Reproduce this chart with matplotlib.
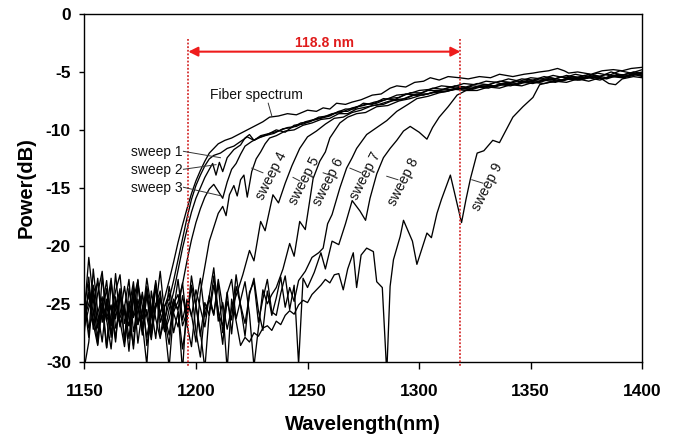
import matplotlib
matplotlib.use("Agg")
import matplotlib.pyplot as plt

plt.rcParams["font.family"] = ["Liberation Sans", "DejaVu Sans"]
plt.rcParams["axes.unicode_minus"] = False

# wavelength grid (nm) of the noise floor part of every trace
NOISE_WL = [1150, 1152, 1154, 1156, 1158, 1160, 1162, 1164, 1166, 1168,
            1170, 1172, 1174, 1176, 1178, 1180, 1182, 1184, 1186, 1188,
            1190, 1192, 1194, 1196, 1198, 1200, 1202, 1204, 1206, 1208,
            1210, 1212, 1214, 1216, 1218, 1220, 1222, 1224, 1226, 1228,
            1230, 1232, 1234, 1236, 1238, 1240, 1242, 1244, 1246, 1248,
            1250, 1252, 1254, 1256, 1258, 1260, 1262, 1264]

# ---- fiber spectrum ----
FIBER_FLOOR = [-25.8, -21.0, -24.6, -27.9, -25.2, -28.8, -23.1, -26.3, -24.0, -28.2,
               -23.7, -26.1, -22.9, -27.3, -25.5, -27.8, -23.2, -25.9, -24.5]
FIBER_TAIL = [(1188, -23.0), (1190, -21.4), (1192, -19.7), (1194, -18.2), (1196, -16.8),
              (1198, -15.5), (1200, -14.4), (1202, -13.5), (1204, -12.7), (1206, -12.0),
              (1208, -11.6), (1210, -11.2), (1213, -10.9), (1216, -10.7), (1219, -10.4),
              (1222, -10.1), (1226, -9.7), (1230, -9.3), (1233, -8.9), (1237, -8.8),
              (1241, -8.6), (1245, -8.7), (1250, -8.3), (1254, -8.4), (1257, -8.1),
              (1260, -8.2), (1263, -7.7), (1267, -7.8), (1270, -7.6), (1274, -7.4),
              (1279, -7.0), (1283, -6.9), (1287, -6.4), (1290, -6.2), (1294, -6.3),
              (1298, -5.9), (1302, -5.8), (1305, -5.5), (1309, -5.7), (1313, -5.4),
              (1318, -5.5), (1322, -5.6), (1327, -5.4), (1332, -5.5), (1336, -5.2),
              (1342, -5.4), (1347, -5.2), (1351, -5.1), (1354, -5.0), (1358, -4.9),
              (1362, -4.7), (1365, -4.9), (1367, -5.1), (1371, -5.0), (1377, -5.2),
              (1382, -4.9), (1387, -4.8), (1391, -4.9), (1395, -4.7), (1400, -4.6)]

# ---- sweeps ----
SWEEP1_FLOOR = [-27.5, -23.3, -26.8, -24.1, -22.2, -26.4, -28.9, -24.8, -27.0, -25.3,
                -29.1, -24.6, -23.0, -26.7, -30.3, -23.9, -26.3, -28.0, -25.2]
SWEEP1_TAIL = [(1188, -24.6), (1190, -23.0), (1192, -21.2), (1194, -19.4), (1196, -17.6),
               (1198, -16.0), (1200, -14.8), (1202, -13.9), (1204, -13.1), (1206, -12.5),
               (1208, -12.2), (1211, -12.0), (1214, -11.6), (1217, -11.4), (1220, -11.0),
               (1223, -10.6), (1226, -10.9), (1229, -10.5), (1233, -10.3), (1237, -10.1),
               (1241, -9.8), (1245, -9.7), (1249, -9.3), (1253, -9.1), (1257, -8.9),
               (1261, -8.6), (1265, -8.5), (1270, -8.1), (1275, -7.9), (1280, -7.6),
               (1285, -7.4), (1290, -7.0), (1295, -6.9), (1300, -6.6), (1305, -6.5),
               (1310, -6.2), (1315, -6.3), (1320, -6.0), (1325, -6.1), (1330, -5.8),
               (1335, -5.9), (1340, -5.6), (1345, -5.8), (1350, -5.5), (1355, -5.6),
               (1360, -5.3), (1365, -5.5), (1370, -5.2), (1375, -5.4), (1380, -5.1),
               (1385, -5.3), (1390, -4.9), (1395, -5.1), (1400, -4.8)]

SWEEP2_FLOOR = [-24.8, -27.9, -22.0, -25.7, -28.3, -24.6, -26.9, -22.4, -26.5, -28.7,
                -25.4, -23.1, -26.8, -24.0, -28.6, -26.2, -23.7, -25.8, -27.4, -25.5]
SWEEP2_TAIL = [(1190, -24.0), (1192, -22.1), (1194, -20.2), (1196, -18.6), (1198, -17.1),
               (1200, -15.9), (1202, -15.0), (1204, -14.1), (1206, -13.4), (1207.5, -12.9),
               (1209, -13.9), (1210.5, -12.8), (1212, -13.6), (1214, -12.4), (1217, -11.7),
               (1220, -11.3), (1222, -10.7), (1224, -10.4), (1226, -10.9), (1229, -10.6),
               (1232, -10.4), (1236, -10.0), (1240, -10.2), (1244, -9.6), (1248, -9.5),
               (1252, -9.2), (1256, -9.0), (1260, -8.8), (1264, -8.4), (1268, -8.4),
               (1272, -8.0), (1276, -7.8), (1281, -7.7), (1286, -7.3), (1291, -7.2),
               (1296, -6.8), (1301, -6.8), (1306, -6.4), (1311, -6.5), (1316, -6.2),
               (1321, -6.3), (1326, -6.0), (1331, -6.1), (1336, -5.8), (1341, -5.9),
               (1346, -5.6), (1351, -5.7), (1356, -5.4), (1361, -5.6), (1366, -5.3),
               (1371, -5.5), (1376, -5.2), (1381, -5.4), (1386, -5.0), (1391, -5.3),
               (1396, -5.0), (1400, -5.1)]

SWEEP3_FLOOR = [-30.5, -28.3, -24.0, -23.2, -26.6, -25.4, -22.8, -27.1, -25.9, -23.5,
                -26.3, -28.6, -23.4, -25.2, -27.9, -25.6, -23.0, -27.8, -26.4, -24.9,
                -25.7, -24.8]
SWEEP3_TAIL = [(1194, -23.3), (1196, -21.3), (1198, -19.5), (1200, -18.0), (1202, -16.8),
               (1204, -15.8), (1206, -15.1), (1208, -14.7), (1210, -15.3), (1212, -15.9),
               (1214, -14.5), (1216, -13.4), (1218, -12.9), (1220, -12.1), (1222, -11.4),
               (1225, -11.0), (1228, -10.7), (1231, -10.5), (1235, -10.3), (1239, -9.9),
               (1243, -9.8), (1247, -9.4), (1251, -9.3), (1255, -8.9), (1259, -8.8),
               (1263, -8.5), (1267, -8.2), (1271, -8.2), (1275, -7.7), (1279, -7.8),
               (1284, -7.3), (1289, -7.4), (1294, -6.9), (1299, -7.0), (1304, -6.6),
               (1309, -6.6), (1314, -6.3), (1319, -6.5), (1324, -6.2), (1329, -6.3),
               (1334, -5.9), (1339, -6.1), (1344, -5.8), (1349, -5.9), (1354, -5.6),
               (1359, -5.7), (1364, -5.4), (1369, -5.6), (1374, -5.3), (1379, -5.5),
               (1384, -5.2), (1389, -5.4), (1394, -5.1), (1400, -5.2)]

SWEEP4_FLOOR = [-25.3, -22.7, -27.2, -25.8, -24.4, -28.8, -26.0, -23.9, -22.5, -26.7,
                -25.1, -28.9, -24.6, -26.3, -22.8, -25.4, -28.0, -24.2, -26.8, -30.5,
                -25.6, -22.9, -26.4, -24.7, -25.9, -28.3]
SWEEP4_TAIL = [(1202, -24.0), (1204, -21.8), (1206, -19.6), (1208, -18.4), (1210, -17.2),
               (1212, -16.6), (1213.5, -17.4), (1215, -15.6), (1217, -14.8), (1218.5, -15.7),
               (1220, -14.3), (1221.5, -13.9), (1223, -15.8), (1225, -13.6), (1227, -12.5),
               (1229, -11.9), (1231, -11.2), (1233, -10.7), (1236, -10.5), (1240, -10.1),
               (1244, -10.0), (1248, -9.6), (1252, -9.4), (1256, -9.1), (1260, -9.0),
               (1264, -8.6), (1268, -8.6), (1272, -8.2), (1277, -8.0), (1282, -7.8),
               (1287, -7.5), (1292, -7.4), (1297, -7.0), (1302, -7.0), (1307, -6.7),
               (1312, -6.7), (1317, -6.4), (1322, -6.5), (1327, -6.2), (1332, -6.3),
               (1337, -6.0), (1342, -6.1), (1347, -5.8), (1352, -5.9), (1357, -5.6),
               (1362, -5.8), (1367, -5.5), (1372, -5.6), (1377, -5.4), (1382, -5.6),
               (1387, -5.3), (1392, -5.4), (1396, -5.1), (1400, -5.3)]

SWEEP5_FLOOR = [-26.4, -24.0, -25.7, -28.5, -22.6, -26.2, -25.1, -28.0, -24.3, -25.8,
                -26.9, -23.7, -28.4, -25.5, -24.1, -27.6, -25.3, -22.2, -26.0, -27.7,
                -24.8, -25.6, -28.9, -26.2, -23.4, -25.1, -27.4, -30.6, -25.7, -22.6,
                -26.5, -24.9, -27.2, -25.4]
SWEEP5_TAIL = [(1218, -24.3), (1221, -22.5), (1224, -20.4), (1226, -21.3), (1229, -17.9),
               (1231, -18.7), (1234.5, -15.6), (1237, -16.3), (1240, -14.6), (1243, -13.1),
               (1246.5, -11.6), (1250, -10.6), (1254, -10.1), (1258, -9.5), (1262, -9.0),
               (1266, -8.9), (1270, -8.5), (1274, -8.3), (1279, -7.9), (1284, -7.8),
               (1289, -7.4), (1294, -7.3), (1299, -6.9), (1304, -6.9), (1309, -6.6),
               (1314, -6.5), (1319, -6.3), (1324, -6.4), (1329, -6.1), (1334, -6.2),
               (1339, -5.9), (1344, -6.0), (1349, -5.7), (1354, -5.8), (1359, -5.5),
               (1364, -5.7), (1369, -5.4), (1374, -5.5), (1379, -5.3), (1384, -5.5),
               (1389, -5.2), (1394, -5.3), (1400, -5.0)]

SWEEP6_FLOOR = [-24.6, -27.1, -25.9, -22.8, -26.3, -25.0, -27.6, -24.4, -26.8, -25.3,
                -22.9, -27.4, -25.6, -24.2, -26.1, -28.1, -25.0, -24.6, -26.7, -23.5,
                -25.8, -27.0, -24.3, -26.4, -22.6, -25.2, -27.8, -24.9, -26.0, -23.4,
                -25.5, -28.5, -24.1, -22.9, -26.3, -24.7, -23.1, -25.9, -30.4, -27.1,
                -23.8, -25.0, -24.2]
SWEEP6_TAIL = [(1236, -23.6), (1239, -22.0), (1242, -19.8), (1244, -20.9), (1246.5, -17.9),
               (1249, -18.6), (1252.5, -14.2), (1255.5, -12.7), (1258, -11.9), (1260, -10.7),
               (1264.5, -9.4), (1268, -8.9), (1272, -8.6), (1276, -8.5), (1281, -8.0),
               (1286, -7.9), (1291, -7.5), (1296, -7.3), (1301, -7.0), (1306, -6.8),
               (1311, -6.7), (1316, -6.5), (1321, -6.6), (1326, -6.3), (1331, -6.4),
               (1336, -6.1), (1341, -6.2), (1346, -5.9), (1351, -6.0), (1356, -5.7),
               (1361, -5.9), (1366, -5.6), (1371, -5.7), (1376, -5.5), (1381, -5.7),
               (1386, -5.4), (1391, -5.5), (1396, -5.2), (1400, -5.4)]

SWEEP7_FLOOR = [-25.9, -24.2, -26.7, -28.6, -25.3, -23.0, -26.9, -25.5, -23.7, -28.3,
                -24.8, -26.2, -25.0, -27.7, -23.5, -25.9, -23.3, -26.6, -25.2, -24.1,
                -27.5, -25.7, -30.8, -24.6, -26.1, -23.8, -25.4, -27.0, -24.3, -21.9,
                -25.8, -26.9, -24.0, -27.6, -23.5, -25.1, -26.7, -24.2, -22.8, -25.6,
                -27.3, -23.9, -26.0, -24.5, -22.7, -25.3, -23.6, -24.8, -23.0]
SWEEP7_TAIL = [(1249, -22.2), (1252, -21.0), (1255, -20.6), (1257, -20.2), (1259, -18.1),
               (1261, -17.3), (1264.5, -15.0), (1267.5, -13.3), (1270, -12.4), (1272, -11.6),
               (1276.5, -10.4), (1281, -9.8), (1285.5, -9.2), (1290, -8.4), (1295, -7.8),
               (1299, -7.3), (1304, -7.1), (1309, -6.8), (1314, -6.6), (1319, -6.4),
               (1324, -6.5), (1329, -6.2), (1334, -6.3), (1339, -6.0), (1344, -6.1),
               (1349, -5.8), (1354, -5.9), (1359, -5.6), (1364, -5.8), (1369, -5.5),
               (1374, -5.6), (1379, -5.4), (1384, -5.6), (1389, -5.3), (1394, -5.4),
               (1400, -5.1)]

SWEEP8_FLOOR = [-26.2, -25.0, -23.4, -27.1, -24.7, -26.5, -25.2, -28.3, -24.1, -25.8,
                -26.9, -23.6, -25.4, -27.2, -24.4, -26.0, -25.1, -23.9, -27.4, -26.3,
                -24.6, -25.5, -23.2, -26.8, -28.7, -25.0, -22.8, -26.1, -24.3, -25.9,
                -23.3, -27.5, -24.8, -26.4, -22.5, -25.2, -27.8, -24.0, -23.1, -26.6,
                -24.6, -22.9, -25.7, -26.0, -24.1, -22.6, -25.5, -23.4, -30.2, -22.8,
                -23.6]
SWEEP8_TAIL = [(1253, -22.3), (1256, -20.6), (1258, -22.0), (1261, -19.6), (1264, -19.9),
               (1267, -18.1), (1270, -16.1), (1273.5, -17.0), (1276, -17.8), (1278, -15.9),
               (1281, -13.8), (1284, -12.4), (1287, -11.6), (1290, -10.9), (1293, -10.1),
               (1296, -9.7), (1300, -10.2), (1303.5, -10.8), (1306, -9.8), (1309, -8.9),
               (1313, -8.0), (1317, -7.0), (1321, -6.6), (1326, -6.6), (1331, -6.3),
               (1336, -6.4), (1341, -6.1), (1346, -6.2), (1351, -5.9), (1356, -6.0),
               (1361, -5.8), (1366, -5.9), (1371, -5.6), (1376, -5.8), (1381, -5.5),
               (1385, -6.0), (1388, -6.1), (1391, -5.6), (1396, -5.4), (1400, -5.5)]

SWEEP9_FLOOR = [-27.0, -25.4, -24.1, -26.6, -25.8, -23.7, -27.9, -24.9, -26.2, -25.1,
                -28.0, -24.4, -26.8, -25.6, -23.8, -27.2, -25.3, -24.5, -26.4, -28.5,
                -25.0, -24.2, -26.9, -25.7, -23.6, -27.4, -29.6, -25.5, -24.7, -26.0,
                -22.9, -25.3, -30.7, -24.6, -26.5, -28.6, -27.9, -28.3, -27.5, -27.8,
                -27.1, -26.9, -27.3, -26.5, -26.8, -26.0, -25.6, -25.9, -25.1, -24.7,
                -24.9, -24.2, -23.8, -23.4, -22.9, -23.2, -22.5, -22.4]
SWEEP9_TAIL = [(1266, -23.8), (1268, -22.0), (1270.5, -20.6), (1272, -23.6), (1274, -20.8),
               (1276.5, -20.2), (1279.5, -20.5), (1281, -23.1), (1283.5, -23.6), (1285.5, -31.0),
               (1287, -23.5), (1288.5, -21.2), (1291.5, -19.2), (1293, -17.8), (1295, -18.7),
               (1297, -19.6), (1299, -21.6), (1303.5, -18.9), (1305.5, -19.3), (1308, -17.2),
               (1310, -16.0), (1314, -13.9), (1319, -18.0), (1321, -16.0), (1323, -14.2),
               (1326, -12.0), (1329, -11.8), (1333, -10.9), (1336, -11.1), (1339, -10.0),
               (1342, -8.9), (1346.5, -8.0), (1351, -7.2), (1354, -6.1), (1358, -5.9),
               (1362, -5.8), (1367, -5.6), (1372, -5.7), (1377, -5.4), (1382, -5.6),
               (1387, -5.3), (1392, -5.5), (1396, -5.2), (1400, -5.3)]

TRACES = [
    (FIBER_FLOOR, FIBER_TAIL),
    (SWEEP1_FLOOR, SWEEP1_TAIL),
    (SWEEP2_FLOOR, SWEEP2_TAIL),
    (SWEEP3_FLOOR, SWEEP3_TAIL),
    (SWEEP4_FLOOR, SWEEP4_TAIL),
    (SWEEP5_FLOOR, SWEEP5_TAIL),
    (SWEEP6_FLOOR, SWEEP6_TAIL),
    (SWEEP7_FLOOR, SWEEP7_TAIL),
    (SWEEP8_FLOOR, SWEEP8_TAIL),
    (SWEEP9_FLOOR, SWEEP9_TAIL),
]

# labels on the left (text, right end of text, leader end)
LEFT_LABELS = [
    ("sweep 1", (1194.0, -11.95), (1211.0, -12.4)),
    ("sweep 2", (1194.0, -13.5), (1209.0, -13.0)),
    ("sweep 3", (1194.0, -15.05), (1211.5, -15.7)),
]
# rotated labels (text, centre, leader start, leader end)
ROT_LABELS = [
    ("sweep 4", (1234.0, -14.0), (1225.0, -13.3), (1230.0, -13.7)),
    ("sweep 5", (1248.5, -14.4), (1243.5, -14.1), (1246.5, -14.4)),
    ("sweep 6", (1259.2, -14.5), (1257.0, -13.7), (1260.0, -13.9)),
    ("sweep 7", (1275.8, -14.0), (1269.0, -13.3), (1274.0, -13.7)),
    ("sweep 8", (1292.9, -14.5), (1285.5, -14.0), (1290.5, -14.3)),
    ("sweep 9", (1330.6, -14.9), (1323.6, -14.3), (1328.6, -14.6)),
]

SPAN_LEFT = 1196.6
SPAN_RIGHT = 1318.5
SPAN_TEXT = "118.8 nm"

X_TICKS = [1150, 1200, 1250, 1300, 1350, 1400]
Y_TICKS = [-30, -25, -20, -15, -10, -5, 0]


def trace_xy(floor, tail):
    xs = NOISE_WL[:len(floor)] + [p[0] for p in tail]
    ys = list(floor) + [p[1] for p in tail]
    return xs, ys


fig = plt.figure(figsize=(6.8, 4.37), dpi=100)
ax = fig.add_axes([0.124, 0.1723, 0.8206, 0.7957])

for floor, tail in TRACES:
    xs, ys = trace_xy(floor, tail)
    ax.plot(xs, ys, color="black", linewidth=0.95, zorder=3)

# red span markers
red_dot = "#d63030"
for xv in (SPAN_LEFT, SPAN_RIGHT):
    ax.plot([xv, xv], [-2.2, -30.4], color=red_dot, linestyle=(0, (1, 1)),
            linewidth=1.3, zorder=4, clip_on=False)
ax.annotate("", xy=(SPAN_LEFT, -3.25), xytext=(SPAN_RIGHT, -3.25),
            arrowprops=dict(arrowstyle="<|-|>", color="#ee1c1c", lw=1.5,
                            mutation_scale=14, shrinkA=0, shrinkB=0), zorder=5)
ax.text((SPAN_LEFT + SPAN_RIGHT) / 2, -2.47, SPAN_TEXT, color="#e01b1b",
        fontsize=10, fontweight="bold", ha="center", va="center")

# annotations
lead_kw = dict(color="#333333", linewidth=0.7, zorder=5)
ax.text(1227.2, -7.0, "Fiber spectrum", fontsize=10, ha="center", va="center", color="#111111")
ax.plot([1232.4, 1234.0], [-7.7, -8.8], **lead_kw)
for text, (tx, ty), (lx, ly) in LEFT_LABELS:
    ax.text(tx, ty, text, fontsize=10, ha="right", va="center", color="#111111")
    ax.plot([tx + 0.4, lx], [ty + 0.1, ly], **lead_kw)
for text, (tx, ty), (l0x, l0y), (l1x, l1y) in ROT_LABELS:
    ax.text(tx, ty, text, fontsize=10, ha="center", va="center", rotation=63,
            rotation_mode="anchor", color="#111111")
    ax.plot([l0x, l1x], [l0y, l1y], **lead_kw)

ax.set_xlim(1150, 1400)
ax.set_ylim(-30, 0)
ax.set_xticks(X_TICKS)
ax.set_yticks(Y_TICKS)
ax.tick_params(axis="x", direction="out", length=5, width=1.0, pad=11, labelsize=12.5)
ax.tick_params(axis="y", direction="out", length=3.6, width=1.0, pad=6, labelsize=12.5)
for lbl in ax.get_xticklabels() + ax.get_yticklabels():
    lbl.set_fontweight("bold")
for sp in ax.spines.values():
    sp.set_linewidth(1.0)
    sp.set_color("black")

ax.set_xlabel("Wavelength(nm)", fontsize=14.5, fontweight="bold")
ax.set_ylabel("Power(dB)", fontsize=14.5, fontweight="bold")
ax.xaxis.set_label_coords(0.5, -0.152)
ax.yaxis.set_label_coords(-0.088, 0.5)

fig.savefig("out.png", dpi=100)
